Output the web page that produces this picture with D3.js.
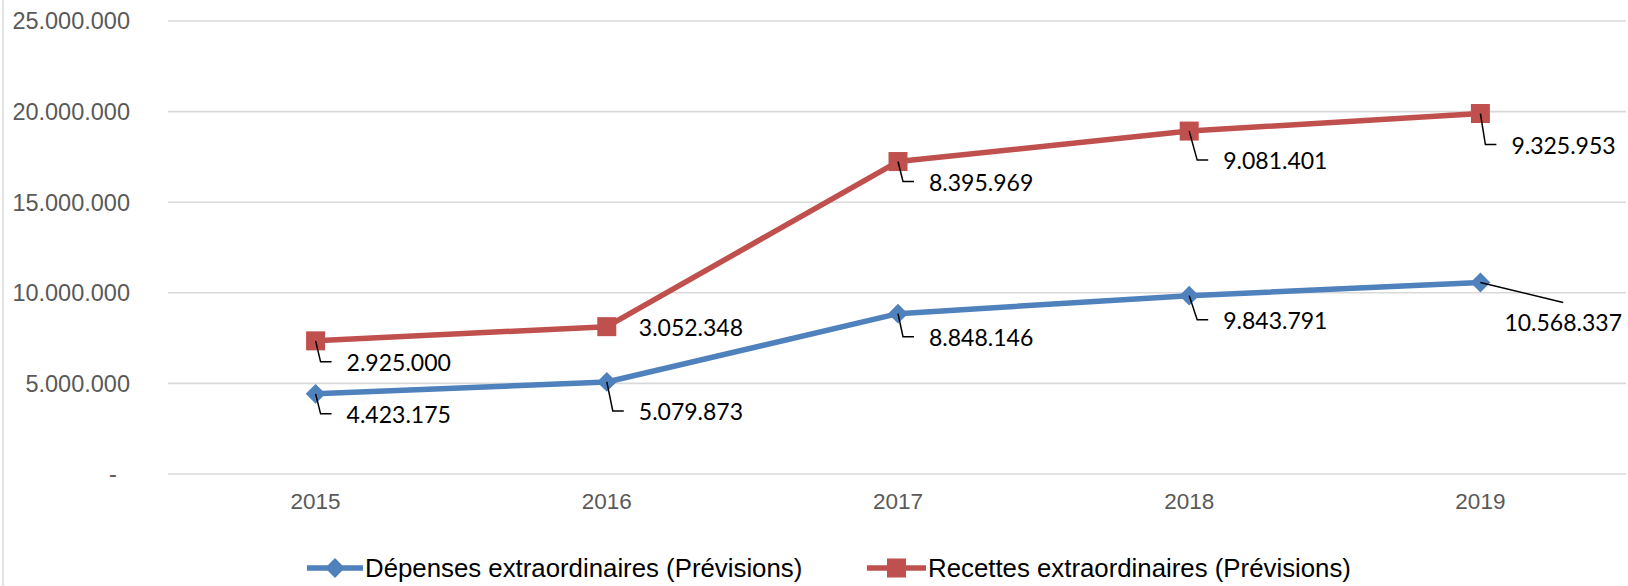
<!DOCTYPE html>
<html>
<head>
<meta charset="utf-8">
<script src="https://cdn.jsdelivr.net/npm/d3@7"></script>
<style>
  body { margin: 0; background: #fff; }
  svg { display: block; }
</style>
</head>
<body>
<script>
'use strict';

// chart data
const years = ["2015", "2016", "2017", "2018", "2019"];
const depenses = [4423175, 5079873, 8848146, 9843791, 10568337];
const recettes = [2925000, 3052348, 8395969, 9081401, 9325953];
const yTicks = [0, 5000000, 10000000, 15000000, 20000000, 25000000];
const seriesNames = ["Dépenses extraordinaires (Prévisions)", "Recettes extraordinaires (Prévisions)"];

(function () {
  const width = 1628, height = 586;
  const blue = "#4F81BD", red = "#C0504D";

  // label placement (dx, dy from marker, leader type)
  const labelShift = {
    dep: [[31, 21, "L"], [32, 30, "L"], [31, 24, "L"], [34, 25, "L"], [24, 40, "diag"]],
    rec: [[31, 22, "L"], [32, 1, "none"], [31, 21, "L"], [34, 30, "L"], [31, 32, "L"]]
  };

  const locale = d3.formatLocale({ decimal: ",", thousands: ".", grouping: [3], currency: ["", ""] });
  const fmt = locale.format(",d");

  const svg = d3.select("body").append("svg")
    .attr("width", width)
    .attr("height", height);

  // chart frame left edge
  svg.append("line")
    .attr("x1", 3).attr("x2", 3)
    .attr("y1", 0).attr("y2", height)
    .attr("stroke", "#d9d9d9")
    .attr("stroke-width", 1.5);

  const x = d3.scaleBand().domain(years).range([170, 1626]);
  const y = d3.scaleLinear().domain([0, 25000000]).range([474, 21]);

  // gridlines
  svg.append("g").selectAll("line")
    .data(yTicks)
    .enter().append("line")
    .attr("x1", 168).attr("x2", 1626)
    .attr("y1", d => y(d)).attr("y2", d => y(d))
    .attr("stroke", "#d9d9d9")
    .attr("stroke-width", 1.6);

  // y labels
  svg.append("g").selectAll("text")
    .data(yTicks)
    .enter().append("text")
    .attr("x", 130)
    .attr("y", d => y(d))
    .attr("dy", "0.36em")
    .attr("text-anchor", "end")
    .style("font-family", "'Liberation Sans', Arial, sans-serif")
    .style("font-size", "23.5px")
    .style("fill", "#595959")
    .text(d => d === 0 ? "-\u00a0\u00a0" : fmt(d));

  // x labels
  svg.append("g").selectAll("text")
    .data(years)
    .enter().append("text")
    .attr("x", d => x(d) + x.bandwidth() / 2)
    .attr("y", 509)
    .attr("text-anchor", "middle")
    .style("font-family", "'Liberation Sans', Arial, sans-serif")
    .style("font-size", "22.5px")
    .style("fill", "#595959")
    .text(d => d);

  // stacked series
  const rows = years.map((yr, i) => ({ year: yr, dep: depenses[i], rec: recettes[i] }));
  const stacked = d3.stack().keys(["dep", "rec"])(rows);

  const line = d3.line()
    .x(d => x(d.data.year) + x.bandwidth() / 2)
    .y(d => y(d[1]));

  const colors = { dep: blue, rec: red };

  stacked.forEach(s => {
    svg.append("path")
      .datum(s)
      .attr("fill", "none")
      .attr("stroke", colors[s.key])
      .attr("stroke-width", 5.5)
      .attr("stroke-linejoin", "round")
      .attr("d", line);
  });

  // markers
  const diamond = d3.symbol().type(d3.symbolDiamond2).size(250);
  stacked.forEach(s => {
    const g = svg.append("g");
    if (s.key === "dep") {
      g.selectAll("path").data(s).enter().append("path")
        .attr("d", diamond)
        .attr("transform", d => "translate(" + (x(d.data.year) + x.bandwidth() / 2) + "," + y(d[1]) + ")")
        .attr("fill", blue);
    } else {
      g.selectAll("rect").data(s).enter().append("rect")
        .attr("x", d => x(d.data.year) + x.bandwidth() / 2 - 9.5)
        .attr("y", d => y(d[1]) - 9.5)
        .attr("width", 19).attr("height", 19)
        .attr("fill", red);
    }
  });

  // data labels with leader lines
  stacked.forEach(s => {
    s.forEach((d, i) => {
      const mx = x(d.data.year) + x.bandwidth() / 2;
      const my = y(d[1]);
      const sh = labelShift[s.key][i];
      const lx = mx + sh[0], cy = my + sh[1];
      const txt = svg.append("text")
        .attr("x", lx)
        .attr("y", cy)
        .attr("dy", "0.36em")
        .style("font-family", "Lato, 'Open Sans', sans-serif")
        .style("font-size", "23px")
        .style("fill", "#000")
        .text(fmt(d.data[s.key]));
      let pts = null;
      if (sh[2] === "L") {
        pts = [[mx, my], [lx - 26, cy - 1], [lx - 15, cy - 1]];
      } else if (sh[2] === "diag") {
        const w = txt.node().getComputedTextLength();
        pts = [[mx, my], [lx + w / 2, cy - 20]];
      }
      if (pts) {
        svg.append("path")
          .attr("d", d3.line()(pts))
          .attr("fill", "none")
          .attr("stroke", "#000")
          .attr("stroke-width", 1.5);
      }
    });
  });

  // legend
  const legendItems = [
    { name: seriesNames[0], color: blue, x0: 307, x1: 363, key: "dep" },
    { name: seriesNames[1], color: red, x0: 867, x1: 926, key: "rec" }
  ];
  const ly = 568;
  legendItems.forEach(item => {
    svg.append("line")
      .attr("x1", item.x0).attr("x2", item.x1)
      .attr("y1", ly).attr("y2", ly)
      .attr("stroke", item.color)
      .attr("stroke-width", 5.5);
    const cx = (item.x0 + item.x1) / 2;
    if (item.key === "dep") {
      svg.append("path")
        .attr("d", diamond)
        .attr("transform", "translate(" + cx + "," + ly + ")")
        .attr("fill", item.color);
    } else {
      svg.append("rect")
        .attr("x", cx - 9.5).attr("y", ly - 9.5)
        .attr("width", 19).attr("height", 19)
        .attr("fill", item.color);
    }
    svg.append("text")
      .attr("x", item.x1 + 2)
      .attr("y", ly)
      .attr("dy", "0.36em")
      .style("font-family", "'Liberation Sans', Arial, sans-serif")
      .style("font-size", "25.8px")
      .style("fill", "#000")
      .text(item.name);
  });
})();
</script>
</body>
</html>
